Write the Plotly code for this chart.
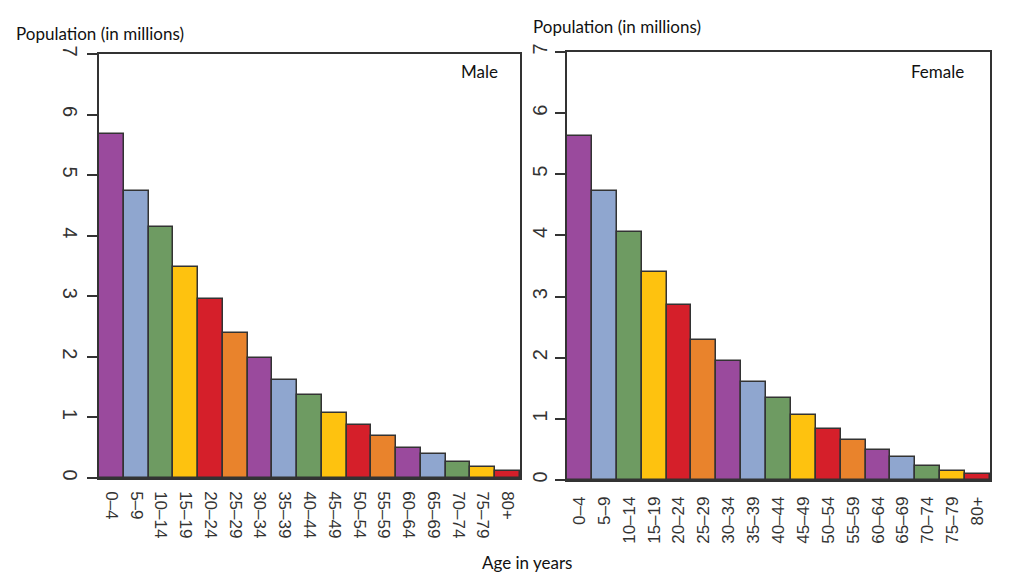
import plotly.graph_objects as go

age_groups = ["0–4", "5–9", "10–14", "15–19", "20–24", "25–29", "30–34", "35–39",
              "40–44", "45–49", "50–54", "55–59", "60–64", "65–69", "70–74", "75–79", "80+"]
male = [5.68, 4.74, 4.15, 3.49, 2.95, 2.39, 1.98, 1.62, 1.37, 1.08, 0.88, 0.70,
        0.49, 0.39, 0.27, 0.18, 0.12]
female = [5.63, 4.72, 4.06, 3.41, 2.86, 2.29, 1.94, 1.60, 1.34, 1.07, 0.84, 0.66,
          0.49, 0.37, 0.23, 0.14, 0.10]
palette = ["#9a4a9d", "#8fa6cf", "#6e9b62", "#fec20f", "#d51f2a", "#e9832c"]
colors = [palette[i % len(palette)] for i in range(len(age_groups))]
y_ticks = [0, 1, 2, 3, 4, 5, 6, 7]

# page has an 8px body margin; work in screen pixels
OFF = 8
W, H = 1024 - OFF, 578 - OFF


def px(x):
    return (x - OFF) / W


def py(y):
    return (H - (y - OFF)) / H


fig = go.Figure()
fig.add_trace(go.Bar(x=age_groups, y=male, marker=dict(color=colors, line=dict(color="#333333", width=1.5)),
                     xaxis="x", yaxis="y", showlegend=False))
fig.add_trace(go.Bar(x=age_groups, y=female, marker=dict(color=colors, line=dict(color="#333333", width=1.5)),
                     xaxis="x2", yaxis="y2", showlegend=False))

xfont = dict(family="Liberation Sans, Arial, sans-serif", size=17, color="#333333")
yfont = dict(family="Liberation Sans, Arial, sans-serif", size=20, color="#333333")
common_x = dict(type="category", range=[-0.5, 16.5], showline=True, mirror=True, linecolor="#333333",
                linewidth=1.5, ticks="", tickfont=xfont, showgrid=False, zeroline=False,
                ticklabelstandoff=8, automargin=False)
common_y = dict(range=[0, 7], tickvals=y_ticks, showline=True, mirror=True, linecolor="#333333",
                linewidth=1.5, ticks="outside", ticklen=10, tickcolor="#333333", tickwidth=1.5,
                tickfont=yfont, showgrid=False, zeroline=False, automargin=False)

tfont = dict(size=17)
fig.update_layout(
    width=W, height=H,
    margin=dict(l=0, r=0, t=0, b=0),
    paper_bgcolor="white", plot_bgcolor="white",
    bargap=0,
    xaxis=dict(domain=[px(99), px(520)], anchor="y", tickangle=90, **common_x),
    yaxis=dict(domain=[py(478), py(54)], anchor="x", tickangle=90, **common_y),
    xaxis2=dict(domain=[px(567), px(990)], anchor="y2", tickangle=-90, **common_x),
    yaxis2=dict(domain=[py(480), py(52)], anchor="x2", tickangle=-90, **common_y),
    font=dict(family="Lato, Open Sans, sans-serif", color="#111111"),
    annotations=[
        dict(text="Population (in millions)", x=px(14), y=py(33), xref="paper", yref="paper",
             xanchor="left", yanchor="middle", showarrow=False, font=tfont),
        dict(text="Population (in millions)", x=px(531), y=py(27), xref="paper", yref="paper",
             xanchor="left", yanchor="middle", showarrow=False, font=tfont),
        dict(text="Male", x=px(500), y=py(71), xref="paper", yref="paper",
             xanchor="right", yanchor="middle", showarrow=False, font=tfont),
        dict(text="Female", x=px(966), y=py(71), xref="paper", yref="paper",
             xanchor="right", yanchor="middle", showarrow=False, font=tfont),
        dict(text="Age in years", x=px(527), y=py(562), xref="paper", yref="paper",
             xanchor="center", yanchor="middle", showarrow=False, font=tfont),
    ],
)

fig.write_html("out.html")
